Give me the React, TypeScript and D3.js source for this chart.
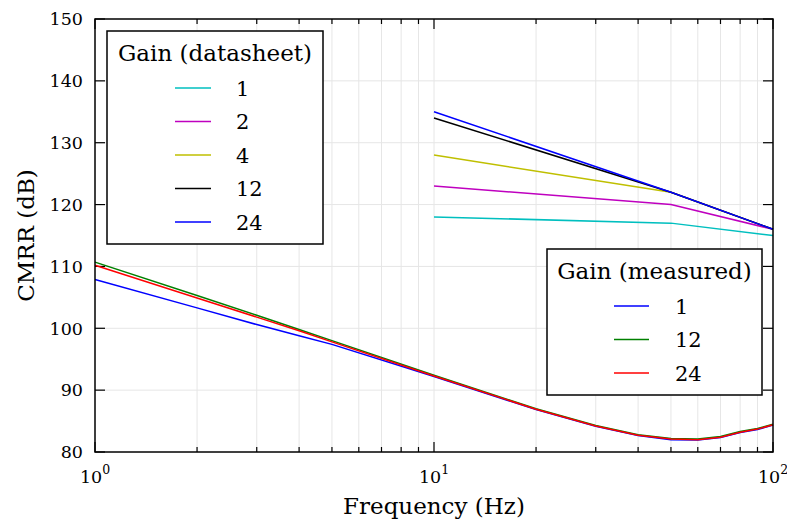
import React, { useRef, useEffect } from "react";
import * as d3 from "d3";

// datasheet values (only at 10, 50, 100 Hz)
const dsFreq = [10, 50, 100];
const dsGain1 = [118, 117, 115];
const dsGain2 = [123, 120, 116];
const dsGain4 = [128, 122, 116];
const dsGain12 = [134, 122, 116];
const dsGain24 = [135, 122, 116];

// measured values
const msFreq = [1, 2, 3, 4, 5, 10, 20, 30, 40, 50, 60, 70, 80, 90, 100];
const msGain1 = [107.9, 103.3, 100.6, 98.8, 97.4, 92.2, 86.85, 84.15, 82.65, 82.0, 81.95, 82.35, 83.15, 83.65, 84.35];
const msGain12 = [110.7, 105.3, 102.1, 99.8, 98.0, 92.4, 87.0, 84.3, 82.8, 82.2, 82.1, 82.5, 83.3, 83.8, 84.5];
const msGain24 = [110.2, 104.9, 101.8, 99.6, 97.8, 92.3, 86.9, 84.2, 82.7, 82.1, 82.0, 82.4, 83.2, 83.7, 84.4];

const yTicks = [80, 90, 100, 110, 120, 130, 140, 150];
const xMajor = [1, 10, 100];
const xMinor = [2, 3, 4, 5, 6, 7, 8, 9, 20, 30, 40, 50, 60, 70, 80, 90];

const dsSeries = [
  { label: "1", color: "#00bfbf", values: dsGain1 },
  { label: "2", color: "#bf00bf", values: dsGain2 },
  { label: "4", color: "#bfbf00", values: dsGain4 },
  { label: "12", color: "#000000", values: dsGain12 },
  { label: "24", color: "#0000ff", values: dsGain24 },
];
const msSeries = [
  { label: "1", color: "#0000ff", values: msGain1 },
  { label: "12", color: "#008000", values: msGain12 },
  { label: "24", color: "#ff0000", values: msGain24 },
];

const FONT = "'DejaVu Serif', 'Liberation Serif', serif";

const App = () => {
  const svgRef = useRef<SVGSVGElement>(null);

  useEffect(() => {
    const svg = d3.select(svgRef.current);
    svg.selectAll("*").remove();

    const left = 95, right = 773, top = 19, bottom = 452;
    const x = d3.scaleLog().domain([1, 100]).range([left, right]);
    const y = d3.scaleLinear().domain([80, 150]).range([bottom, top]);

    // grid
    const grid = svg.append("g").attr("stroke", "#e6e6e6").attr("stroke-width", 1);
    [...xMinor, 10].forEach((f) => {
      grid.append("line").attr("x1", x(f)).attr("x2", x(f)).attr("y1", top).attr("y2", bottom);
    });
    yTicks.slice(1, -1).forEach((v) => {
      grid.append("line").attr("x1", left).attr("x2", right).attr("y1", y(v)).attr("y2", y(v));
    });

    // ticks (inside, mirrored)
    const ticks = svg.append("g").attr("stroke", "#000").attr("stroke-width", 1.2);
    xMinor.forEach((f) => {
      ticks.append("line").attr("x1", x(f)).attr("x2", x(f)).attr("y1", bottom).attr("y2", bottom - 5);
      ticks.append("line").attr("x1", x(f)).attr("x2", x(f)).attr("y1", top).attr("y2", top + 5);
    });
    xMajor.forEach((f) => {
      ticks.append("line").attr("x1", x(f)).attr("x2", x(f)).attr("y1", bottom).attr("y2", bottom - 10);
      ticks.append("line").attr("x1", x(f)).attr("x2", x(f)).attr("y1", top).attr("y2", top + 10);
    });
    yTicks.forEach((v) => {
      ticks.append("line").attr("x1", left).attr("x2", left + 10).attr("y1", y(v)).attr("y2", y(v));
      ticks.append("line").attr("x1", right).attr("x2", right - 10).attr("y1", y(v)).attr("y2", y(v));
    });

    // lines
    const line = (freqs: number[]) =>
      d3.line<number>().x((_, i) => x(freqs[i])).y((d) => y(d));

    dsSeries.forEach((s) => {
      svg.append("path")
        .attr("d", line(dsFreq)(s.values))
        .attr("fill", "none")
        .attr("stroke", s.color)
        .attr("stroke-width", 1.5);
    });
    msSeries.forEach((s) => {
      svg.append("path")
        .attr("d", line(msFreq)(s.values))
        .attr("fill", "none")
        .attr("stroke", s.color)
        .attr("stroke-width", 1.5);
    });

    // frame
    svg.append("rect")
      .attr("x", left).attr("y", top)
      .attr("width", right - left).attr("height", bottom - top)
      .attr("fill", "none").attr("stroke", "#000").attr("stroke-width", 1.5);

    // tick labels
    yTicks.forEach((v) => {
      svg.append("text")
        .attr("x", 83).attr("y", y(v)).attr("dy", "0.36em")
        .attr("text-anchor", "end")
        .attr("font-family", FONT).attr("font-size", 17.5)
        .text(v);
    });
    xMajor.forEach((f, i) => {
      const t = svg.append("text")
        .attr("x", x(f)).attr("y", 483)
        .attr("text-anchor", "middle")
        .attr("font-family", FONT).attr("font-size", 17.5);
      t.append("tspan").text("10");
      t.append("tspan").attr("dy", -9).attr("font-size", 12.5).text(String(i));
    });

    // axis titles
    svg.append("text")
      .attr("x", (left + right) / 2).attr("y", 514)
      .attr("text-anchor", "middle")
      .attr("font-family", FONT).attr("font-size", 23)
      .text("Frequency (Hz)");
    svg.append("text")
      .attr("transform", `translate(34,${(top + bottom) / 2}) rotate(-90)`)
      .attr("text-anchor", "middle")
      .attr("font-family", FONT).attr("font-size", 23)
      .text("CMRR (dB)");

    // legends
    const legend = (
      bx: number, by: number, bw: number, bh: number,
      title: string, titleY: number, items: typeof dsSeries,
      firstY: number, step: number, lx1: number, lx2: number, tx: number
    ) => {
      const g = svg.append("g");
      g.append("rect")
        .attr("x", bx).attr("y", by).attr("width", bw).attr("height", bh)
        .attr("fill", "#fff").attr("stroke", "#000").attr("stroke-width", 1.5);
      g.append("text")
        .attr("x", bx + bw / 2).attr("y", titleY).attr("dy", "0.36em")
        .attr("text-anchor", "middle")
        .attr("font-family", FONT).attr("font-size", 23)
        .text(title);
      items.forEach((s, i) => {
        const yy = firstY + i * step;
        g.append("line")
          .attr("x1", lx1).attr("x2", lx2).attr("y1", yy).attr("y2", yy)
          .attr("stroke", s.color).attr("stroke-width", 1.5);
        g.append("text")
          .attr("x", tx).attr("y", yy).attr("dy", "0.36em")
          .attr("font-family", FONT).attr("font-size", 21)
          .text(s.label);
      });
    };
    legend(107, 31, 216, 213, "Gain (datasheet)", 53, dsSeries, 88, 33.5, 175, 211, 236);
    legend(547, 249, 215, 146, "Gain (measured)", 271, msSeries, 306, 33.5, 614, 649, 675);
  }, []);

  return (
    <svg
      ref={svgRef}
      width={787}
      height={525}
      style={{ position: "absolute", left: 0, top: 0, background: "#fff" }}
    />
  );
};

export default App;
